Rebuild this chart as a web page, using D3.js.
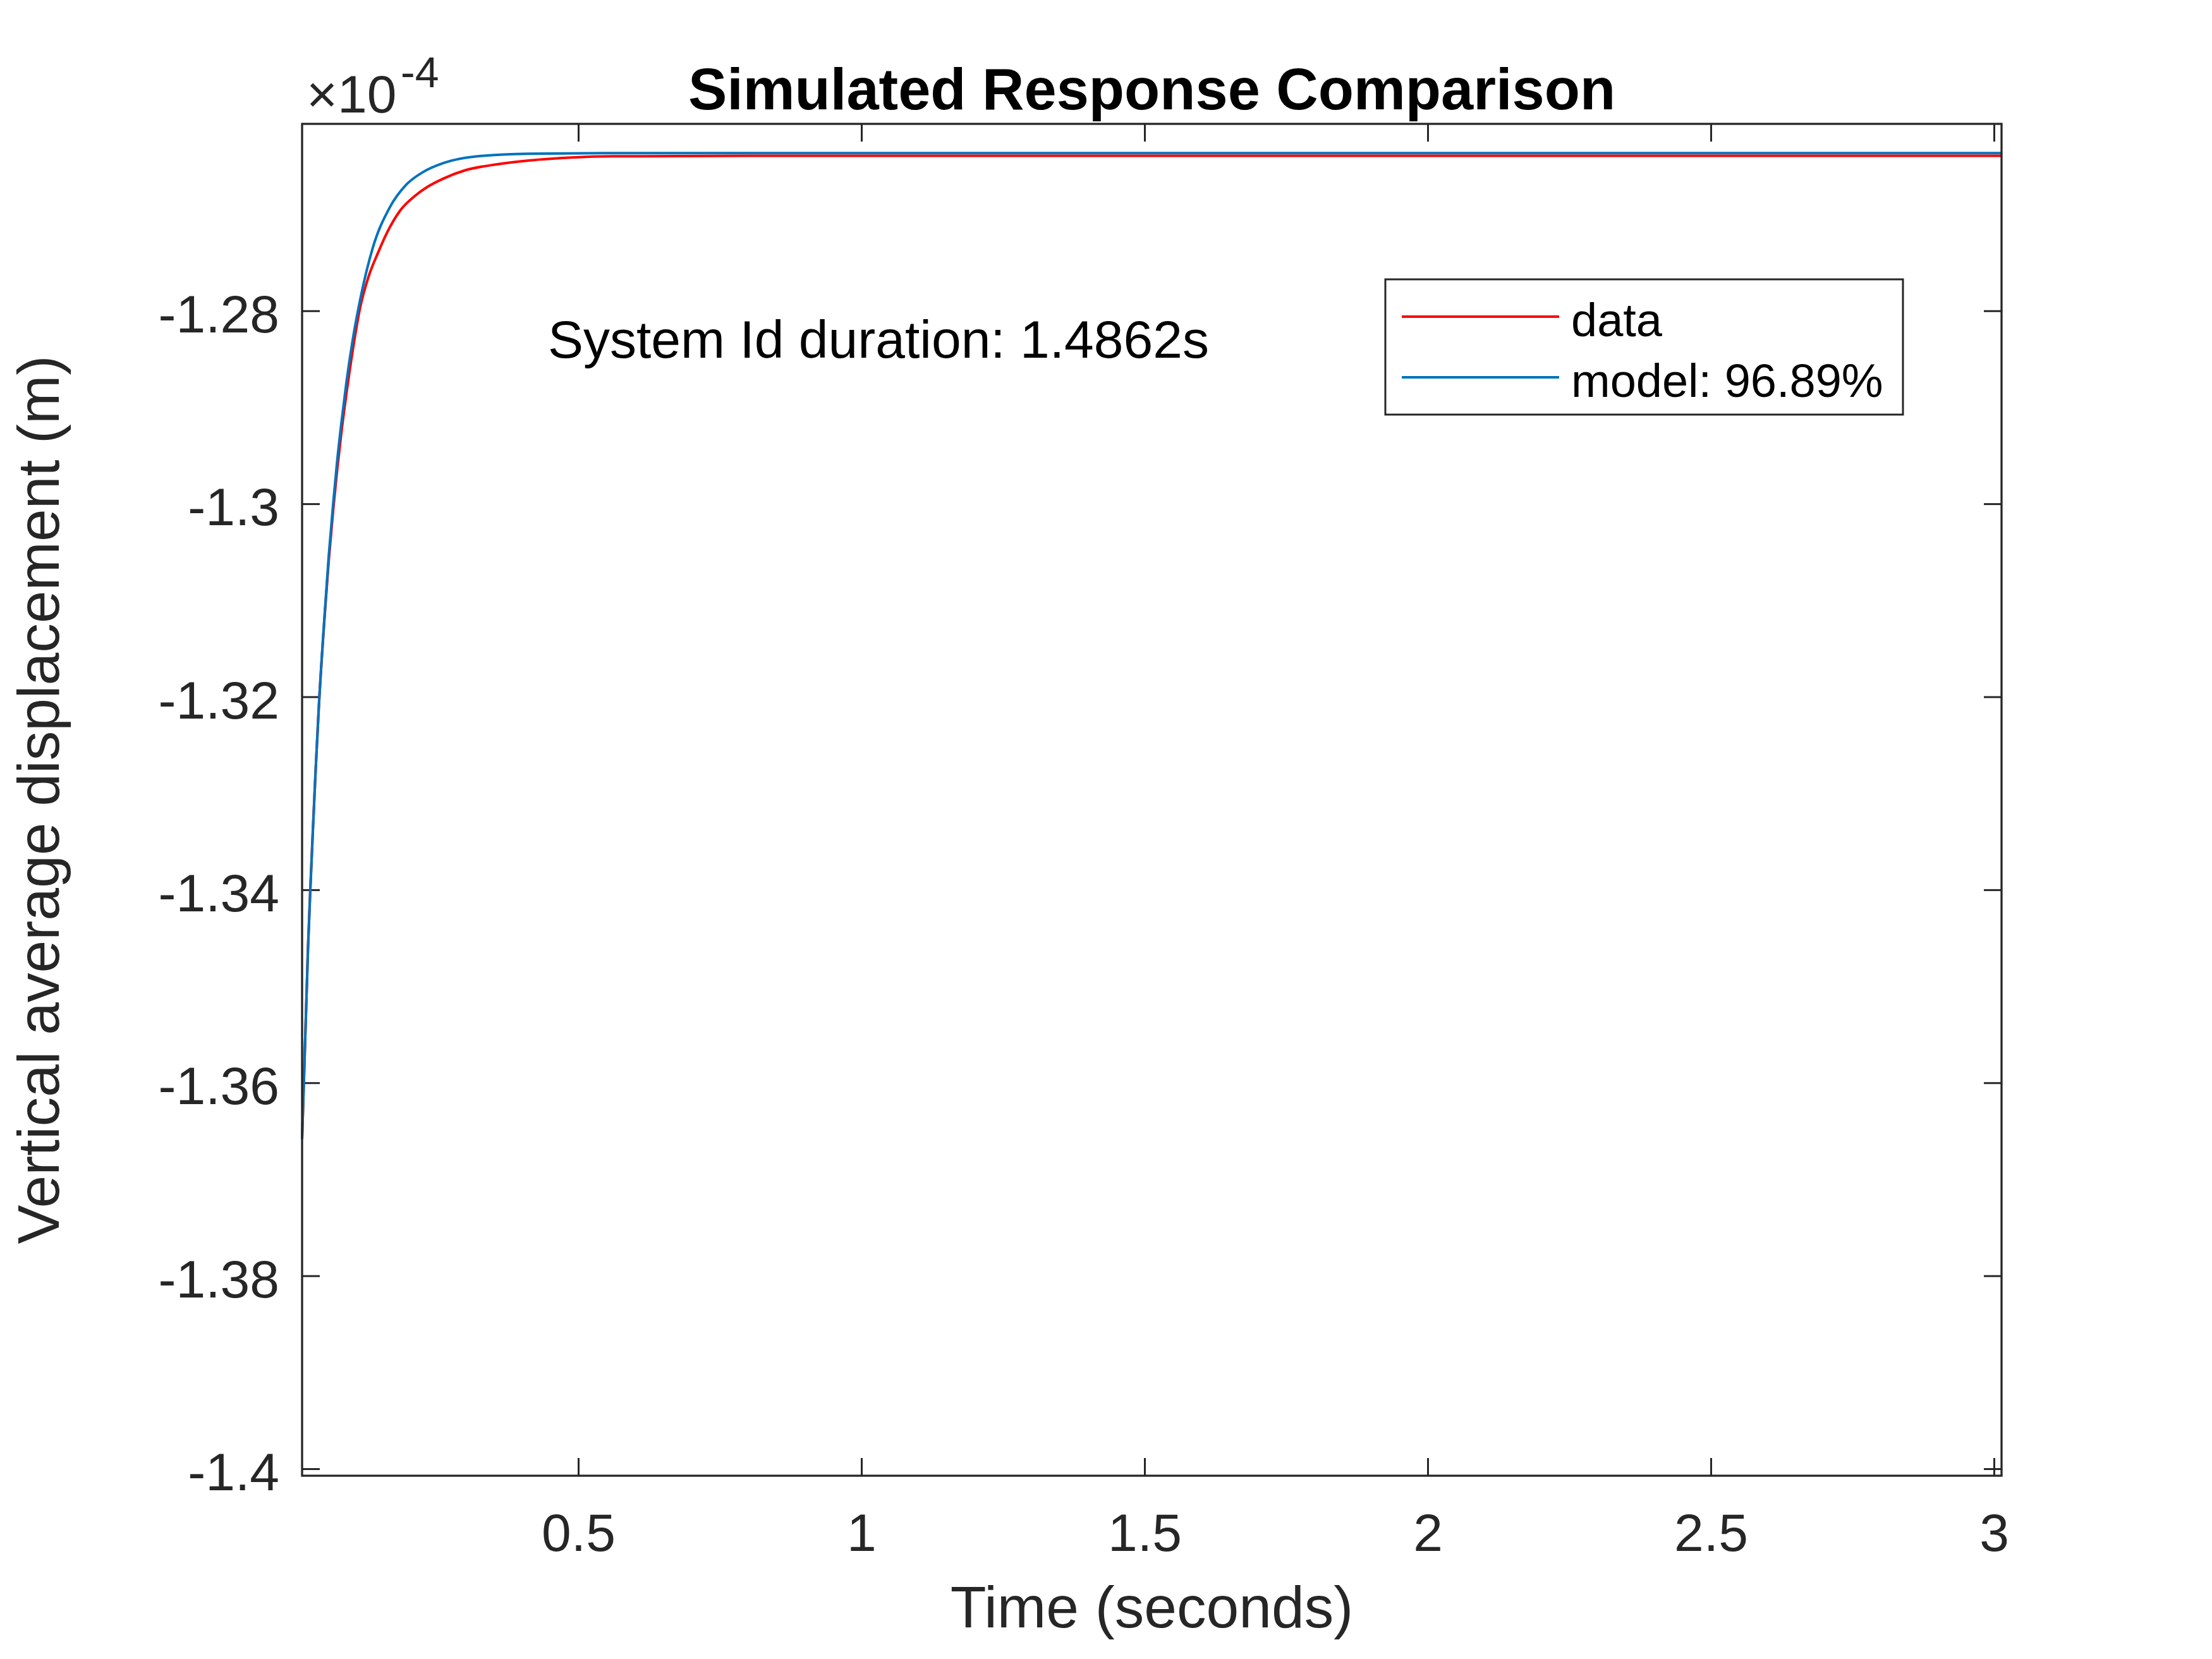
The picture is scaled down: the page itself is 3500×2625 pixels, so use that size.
<!DOCTYPE html>
<html lang="en">
<head>
    <meta charset="UTF-8">
    <title>Simulated Response Comparison</title>
    <script src="https://d3js.org/d3.v7.min.js"></script>
    <style>
        body { margin: 0; background: #fff; }
        text { font-family: "Liberation Sans", Arial, sans-serif; }
    </style>
</head>
<body>

<script>

// time (s) and displacement (x 1e-4 m)
var dataTime  = [0.0123, 0.0227, 0.0265, 0.0313, 0.0361, 0.0417, 0.0517, 0.0592, 0.0673, 0.0740,
                 0.0815, 0.0908, 0.1020, 0.1147, 0.1300, 0.1463, 0.1631, 0.1854, 0.2115, 0.2339,
                 0.2636, 0.3009, 0.3567, 0.4125, 0.4869, 0.5614, 0.8, 1.5, 3.0134];
var dataValue = [-1.36584, -1.3460, -1.3403, -1.3338, -1.3277, -1.3212, -1.3120, -1.3060, -1.3006, -1.2966,
                 -1.2927, -1.2885, -1.2840, -1.2797, -1.2764, -1.2740, -1.27181, -1.26962, -1.2681, -1.26715,
                 -1.26625, -1.26543, -1.26482, -1.26443, -1.26412, -1.26399, -1.26394, -1.26393, -1.26393];

var modelTime  = [0.0123, 0.0227, 0.0265, 0.0313, 0.0361, 0.0417, 0.0517, 0.0592, 0.0673, 0.0740,
                  0.0815, 0.0908, 0.1020, 0.1150, 0.137, 0.167, 0.1968, 0.2266, 0.2638, 0.3196,
                  0.4126, 0.5614, 1.0, 2.0, 3.0134];
var modelValue = [-1.36584, -1.3462, -1.3405, -1.3340, -1.3278, -1.3212, -1.3118, -1.3055, -1.2999, -1.2957,
                  -1.2917, -1.2873, -1.2829, -1.2788, -1.2735, -1.2693, -1.2669, -1.2656, -1.26465, -1.2640,
                  -1.26373, -1.26366, -1.26366, -1.26366, -1.26366];

var seriesNames = ["data", "model: 96.89%"];
var xTicks = [0.5, 1, 1.5, 2, 2.5, 3];
var xTickLabels = ["0.5", "1", "1.5", "2", "2.5", "3"];
var yTicks = [-1.4, -1.38, -1.36, -1.34, -1.32, -1.3, -1.28];
var yTickLabels = ["-1.4", "-1.38", "-1.36", "-1.34", "-1.32", "-1.3", "-1.28"];

var width = 3500,
    height = 2625,
    axL = 478, axR = 3167, axT = 196, axB = 2335,
    axisColor = "#262626";

var svg = d3.select("body").append("svg")
    .attr("width", width)
    .attr("height", height);

var x = d3.scaleLinear().domain([0.0123, 3.0134]).range([axL, axR]);
var y = d3.scaleLinear().domain([-1.40072, -1.26063]).range([axB, axT]);

// axes, ticks pointing inward like matlab
var tick = 28;
function styleAxis(g) {
    g.select(".domain").remove();
    g.selectAll(".tick line").attr("stroke", axisColor).attr("stroke-width", 3);
    g.selectAll("text").attr("fill", axisColor).style("font-size", "84px")
        .style("font-family", "'Liberation Sans', Arial, sans-serif");
}

svg.append("g")
    .attr("transform", "translate(0," + axB + ")")
    .call(d3.axisBottom(x).tickValues(xTicks).tickSize(-tick).tickSizeOuter(0)
        .tickFormat(function(d, i) { return xTickLabels[i]; }))
    .call(styleAxis)
    .selectAll("text").attr("y", 2454 - axB).attr("dy", 0);

svg.append("g")
    .attr("transform", "translate(0," + axT + ")")
    .call(d3.axisTop(x).tickValues(xTicks).tickSize(-tick).tickSizeOuter(0).tickFormat(""))
    .call(styleAxis);

svg.append("g")
    .attr("transform", "translate(" + axL + ",0)")
    .call(d3.axisLeft(y).tickValues(yTicks).tickSize(-tick).tickSizeOuter(0).tickPadding(36)
        .tickFormat(function(d, i) { return yTickLabels[i]; }))
    .call(styleAxis)
    .selectAll("text").attr("dy", "0.4em");

svg.append("g")
    .attr("transform", "translate(" + axR + ",0)")
    .call(d3.axisRight(y).tickValues(yTicks).tickSize(-tick).tickSizeOuter(0).tickFormat(""))
    .call(styleAxis);

// the lines
var line = d3.line()
    .x(function(d) { return x(d[0]); })
    .y(function(d) { return y(d[1]); })
    .curve(d3.curveMonotoneX);

svg.append("path")
    .datum(d3.zip(dataTime, dataValue))
    .attr("fill", "none")
    .attr("stroke", "#ff0000")
    .attr("stroke-width", 4)
    .attr("d", line);

svg.append("path")
    .datum(d3.zip(modelTime, modelValue))
    .attr("fill", "none")
    .attr("stroke", "#0072bd")
    .attr("stroke-width", 4)
    .attr("d", line);

// box
svg.append("rect")
    .attr("x", axL).attr("y", axT)
    .attr("width", axR - axL).attr("height", axB - axT)
    .attr("fill", "none")
    .attr("stroke", axisColor)
    .attr("stroke-width", 3.3);

// exponent label
var expo = svg.append("text")
    .attr("x", 485).attr("y", 178)
    .attr("fill", axisColor)
    .style("font-size", "84px")
    .text("\u00d710");
expo.append("tspan")
    .attr("x", 634).attr("y", 138)
    .style("font-size", "68px")
    .text("-4");

// title and labels
svg.append("text")
    .attr("x", (axL + axR) / 2).attr("y", 173)
    .attr("text-anchor", "middle")
    .style("font-size", "92px")
    .style("font-weight", "bold")
    .attr("fill", "#000")
    .text("Simulated Response Comparison");

svg.append("text")
    .attr("x", (axL + axR) / 2).attr("y", 2575)
    .attr("text-anchor", "middle")
    .style("font-size", "93px")
    .attr("fill", axisColor)
    .text("Time (seconds)");

svg.append("text")
    .attr("transform", "translate(93," + (axT + axB) / 2 + ") rotate(-90)")
    .attr("text-anchor", "middle")
    .style("font-size", "93px")
    .attr("fill", axisColor)
    .text("Vertical average displacement (m)");

svg.append("text")
    .attr("x", 867).attr("y", 566)
    .style("font-size", "84px")
    .attr("fill", "#000")
    .text("System Id duration: 1.4862s");

// legend
var legend = svg.append("g");
legend.append("rect")
    .attr("x", 2192).attr("y", 442)
    .attr("width", 819).attr("height", 214)
    .attr("fill", "#fff")
    .attr("stroke", axisColor)
    .attr("stroke-width", 3);

var colors = ["#ff0000", "#0072bd"];
seriesNames.forEach(function(name, i) {
    var ly = 501 + i * 96;
    legend.append("line")
        .attr("x1", 2218).attr("x2", 2467)
        .attr("y1", ly).attr("y2", ly)
        .attr("stroke", colors[i])
        .attr("stroke-width", 4);
    legend.append("text")
        .attr("x", 2486).attr("y", ly + 31)
        .style("font-size", "74px")
        .attr("fill", "#000")
        .text(name);
});

</script>
</body>
</html>
